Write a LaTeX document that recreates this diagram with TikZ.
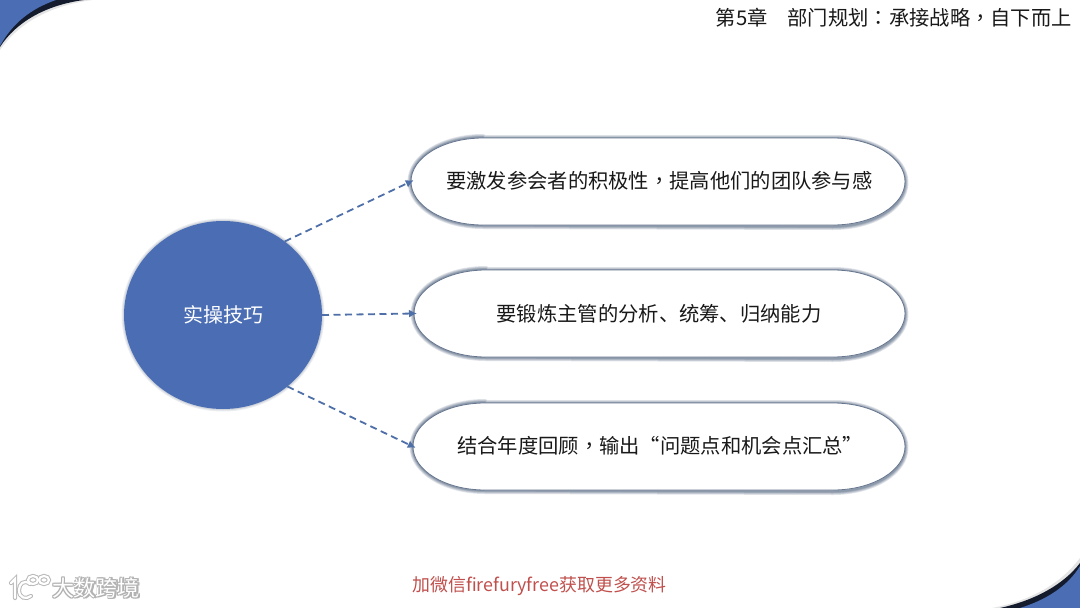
\documentclass[tikz,border=0pt]{standalone}
\usepackage{fontspec}
\setmainfont{Noto Sans CJK SC}
\newfontfamily\tcfont{Noto Sans CJK TC}
\usetikzlibrary{arrows.meta,shapes.geometric}
\definecolor{blueA}{HTML}{4A6DB3}
\definecolor{dashC}{HTML}{4F6FA8}
\definecolor{rim}{HTML}{66768F}
\definecolor{redT}{HTML}{C0504D}
\newcommand{\cpunct}[1]{{\tcfont #1}}
\tikzset{
  x=1pt,y=-1pt,
  hub/.style={ellipse,fill=blueA,minimum width=198pt,minimum height=188pt,inner sep=0pt,outer sep=0pt,text=white,font=\fontsize{20}{24}\selectfont},
  label/.style={inner sep=0pt,text=black!90,font=\fontsize{20.3}{24}\selectfont},
  slot/.style={inner sep=0pt,outer sep=0pt,minimum height=87pt},
  link/.style={draw=dashC,line width=1.8pt,dash pattern=on 7pt off 4.5pt,shorten >=-3pt,-{Latex[length=8pt,width=8pt]}},
  halo/.style={draw=rim,opacity=.2,line join=round},
}
\newcommand{\pillpath}[4]{(#1+72,#3) -- (#2-72,#3) arc[start angle=-90,end angle=90,x radius=72,y radius={(#4-#3)/2}] -- (#1+72,#4) arc[start angle=90,end angle=270,x radius=72,y radius={(#4-#3)/2}] -- cycle}
\newcommand{\pill}[4]{%
  \foreach \w in {7,5.5,4,3,2.2,1.5}{\draw[halo,line width=\w pt] \pillpath{#1}{#2}{#3+0.5}{#4+0.5};}
  \draw[draw=rim,line width=0.8pt,fill=white] \pillpath{#1}{#2}{#3}{#4};
}
\begin{document}
\begin{tikzpicture}
\useasboundingbox (0,0) rectangle (1080,608);
\fill[white] (0,0) rectangle (1080,608);
% corners
\fill[black!30,opacity=.35] (0,50) .. controls (18,24) and (48,6) .. (92,0) -- (0,0) -- cycle;
\fill[black!75!blueA] (0,47) .. controls (16,22) and (46,5) .. (84,0) -- (0,0) -- cycle;
\fill[blueA] (0,46) .. controls (12,24) and (30,9) .. (56,0) -- (0,0) -- cycle;
\fill[black!30,opacity=.35] (1080,558) .. controls (1062,582) and (1034,600) .. (992,608) -- (1080,608) -- cycle;
\fill[black!75!blueA] (1080,563) .. controls (1064,584) and (1036,600) .. (1000,608) -- (1080,608) -- cycle;
\fill[blueA] (1080,566) .. controls (1068,586) and (1046,600) .. (1020,608) -- (1080,608) -- cycle;
% title
\node[label,anchor=east] (title) at (1072,18) {第5章\hspace{20pt}部门规划\cpunct{：}承接战略\cpunct{，}自下而上};
% pills
\pill{411}{905}{138}{225}
\pill{414}{905}{270}{357}
\pill{413}{905}{403}{490}
\node[slot,minimum width=494pt] (p1) at (658,181.5) {};
\node[slot,minimum width=491pt] (p2) at (659.5,313.5) {};
\node[slot,minimum width=492pt] (p3) at (659,446.5) {};
\node[label,anchor=west] (t1) at (446,181) {要激发参会者的积极性\cpunct{，}提高他们的团队参与感};
\node[label] (t2) at (659,314) {要锻炼主管的分析、统筹、归纳能力};
\node[label,anchor=west] (t3) at (457,446) {结合年度回顾\cpunct{，}输出“问题点和机会点汇总”};
% hub
\foreach \w in {5,3,1.5}{\draw[draw=rim,opacity=.12,line width=\w pt] (223,315) ellipse[x radius=99,y radius=94];}
\node[hub] (hub) at (223,315) {实操技巧};
% links
\draw[link] (hub.50) -- (p1.west);
\draw[link] (hub.0) -- (p2.west);
\draw[link] (hub.-48) -- (p3.west);
% footer
\node[inner sep=0pt,text=redT,font=\fontsize{17.9}{20}\selectfont] (foot) at (539.5,586) {加微信firefuryfree获取更多资料};
% watermark
\foreach \dx/\dy in {-1/0,1/0,0/-1,0/1,-1/-1,1/1,-1/1,1/-1}{
  \node[inner sep=0pt,text=black!30,font=\fontsize{22}{24}\selectfont] at (96+\dx,588+\dy) {大数跨境};
}
\node[inner sep=0pt,text=white,font=\fontsize{22}{24}\selectfont] (wm) at (96,588) {大数跨境};
\foreach \c/\w in {black!28/4.2pt,white/2.2pt}{
  \draw[\c,line width=\w,line cap=round] (11,583) -- (15,579) -- (15,598);
  \draw[\c,line width=\w,line cap=round] (30,584) .. controls (24,579) and (19,584) .. (19,590) .. controls (19,598) and (26,600) .. (31,596);
  \draw[\c,line width=\w] (33,580) ellipse[x radius=5,y radius=4];
  \draw[\c,line width=\w] (44,580) ellipse[x radius=5,y radius=4];
}
\end{tikzpicture}
\end{document}
